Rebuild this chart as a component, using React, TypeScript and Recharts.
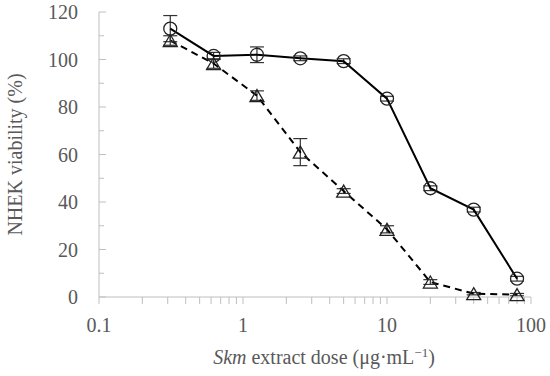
import { LineChart, Line, XAxis, YAxis, ErrorBar, Label } from 'recharts';

const doses = [0.3125, 0.625, 1.25, 2.5, 5, 10, 20, 40, 80];
const circleMean = [113, 101.5, 102, 100.5, 99.3, 83.5, 45.8, 36.8, 7.7];
const circleErr = [5.5, 1.5, 3.3, 1, 1, 1, 1, 1, 1];
const triMean = [108, 98.3, 84.8, 61, 44.6, 28.5, 6.3, 1.4, 1];
const triErr = [2, 2, 2, 5.7, 1, 1.5, 1, 0.5, 0.5];

const xTicks = [
  0.1, 0.2, 0.3, 0.4, 0.5, 0.6, 0.7, 0.8, 0.9,
  1, 2, 3, 4, 5, 6, 7, 8, 9,
  10, 20, 30, 40, 50, 60, 70, 80, 90, 100,
];
const xLabels = [0.1, 1, 10, 100];
const yTicks = [0, 10, 20, 30, 40, 50, 60, 70, 80, 90, 100, 110, 120];

const data = doses.map((d, i) => ({
  dose: d,
  circle: circleMean[i],
  circleErr: circleErr[i],
  tri: triMean[i],
  triErr: triErr[i],
}));

const FONT = '"Liberation Serif", serif';
const TEXT = '#595959';
const AXIS = '#bfbfbf';
const FS = 20;

const YTick = (props: any) => {
  const { x, y, payload } = props;
  const major = payload.value % 20 === 0;
  return (
    <g>
      <line x1={x + 21} x2={x + 21 + (major ? 7 : 5)} y1={y} y2={y} stroke={AXIS} strokeWidth={1} />
      {major && (
        <text x={x} y={y} dy="0.35em" textAnchor="end" fill={TEXT} fontFamily={FONT} fontSize={FS}>
          {payload.value}
        </text>
      )}
    </g>
  );
};

const Triangle = (props: any) => {
  const { cx, cy, index } = props;
  if (cx == null || cy == null) return <g key={index} />;
  return (
    <path
      key={index}
      d={`M${cx},${cy - 6} L${cx + 7},${cy + 6} L${cx - 7},${cy + 6} Z`}
      fill="none"
      stroke="#222"
      strokeWidth={1.3}
    />
  );
};

export default function App() {
  return (
    <div style={{ position: 'absolute', left: 0, top: 0, background: '#fff' }}>
      <LineChart width={550} height={376} data={data} margin={{ top: 12, right: 19, left: 0, bottom: 0 }}>
        <XAxis
          dataKey="dose"
          type="number"
          scale="log"
          domain={[0.1, 100]}
          ticks={xTicks}
          interval={0}
          height={79}
          tickSize={7}
          tickMargin={14}
          stroke={AXIS}
          tick={{ fill: TEXT, fontFamily: FONT, fontSize: FS }}
          tickFormatter={(v: number) => (xLabels.includes(v) ? String(v) : '')}
          allowDataOverflow
        >
          <Label
            content={(p: any) => {
              const vb = p.viewBox;
              return (
                <text
                  x={vb.x + vb.width / 2 + 9}
                  y={364}
                  textAnchor="middle"
                  fill={TEXT}
                  fontFamily={FONT}
                  fontSize={FS}
                >
                  <tspan fontStyle="italic">Skm</tspan>
                  <tspan> extract dose (μg·mL</tspan>
                  <tspan dy={-7} fontSize={13}>−1</tspan>
                  <tspan dy={7}>)</tspan>
                </text>
              );
            }}
          />
        </XAxis>
        <YAxis
          type="number"
          domain={[0, 120]}
          ticks={yTicks}
          interval={0}
          width={99}
          tickSize={0}
          tickMargin={21}
          tickLine={false}
          stroke={AXIS}
          tick={<YTick />}
        >
          <Label
            content={(p: any) => {
              const vb = p.viewBox;
              const cy = vb.y + vb.height / 2;
              return (
                <text
                  x={15}
                  y={cy}
                  transform={`rotate(-90, 15, ${cy})`}
                  textAnchor="middle"
                  dy="0.35em"
                  fill={TEXT}
                  fontFamily={FONT}
                  fontSize={FS}
                >
                  NHEK viability (%)
                </text>
              );
            }}
          />
        </YAxis>
        <Line
          dataKey="tri"
          stroke="#000"
          strokeWidth={2}
          strokeDasharray="7 5"
          dot={Triangle}
          activeDot={false}
          isAnimationActive={false}
        >
          <ErrorBar dataKey="triErr" direction="y" width={7} stroke="#333" strokeWidth={1.2} />
        </Line>
        <Line
          dataKey="circle"
          stroke="#000"
          strokeWidth={2}
          dot={{ r: 6.5, fill: 'none', stroke: '#222', strokeWidth: 1.3 }}
          activeDot={false}
          isAnimationActive={false}
        >
          <ErrorBar dataKey="circleErr" direction="y" width={7} stroke="#333" strokeWidth={1.2} />
        </Line>
      </LineChart>
    </div>
  );
}
